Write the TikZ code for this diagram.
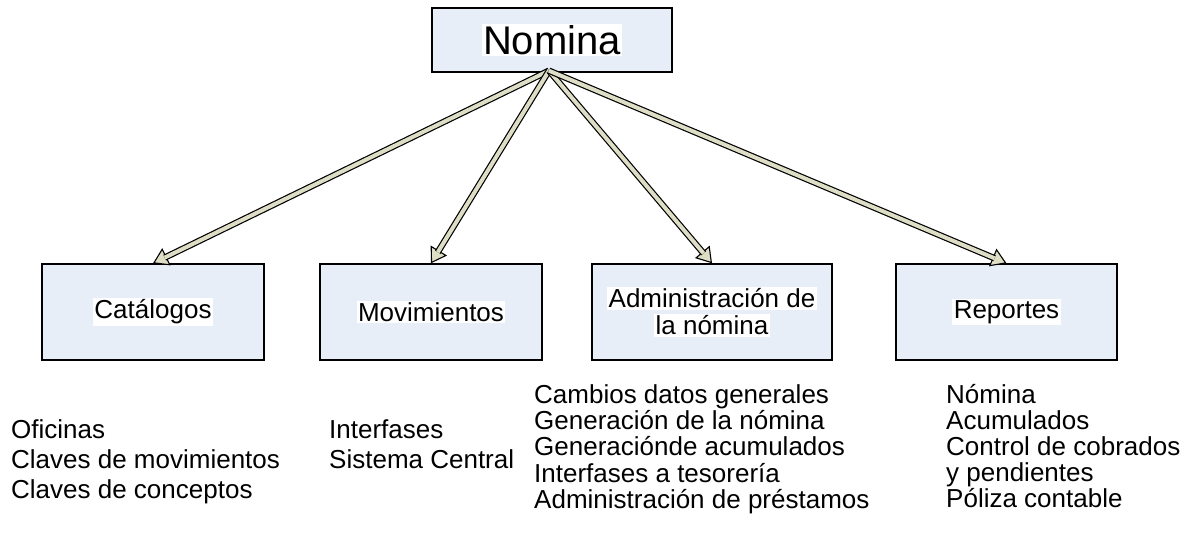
\documentclass[tikz,border=0pt]{standalone}
\usepackage{fontspec}
\setmainfont{Liberation Sans}
\usetikzlibrary{arrows.meta,calc}
\definecolor{boxfill}{RGB}{232,238,248}
\definecolor{khaki}{RGB}{222,222,198}
\newcommand\wbg[1]{{\setlength\fboxsep{1.5pt}\colorbox{white}{#1}}}
\tikzset{
  stepbox/.style={draw=black, line width=1.4pt, fill=boxfill, inner sep=0pt,
    minimum height=96pt, font=\fontsize{26}{28}\selectfont, align=center},
  shaft/.style={draw=black, line width=1.2pt, double=khaki, double distance=4pt, shorten >=13pt},
  headtip/.style={draw=black, line width=1.1pt, -{Triangle[length=15pt, width=19pt, fill=khaki]}},
  listtext/.style={anchor=base west, inner sep=0pt, font=\fontsize{26}{24}\selectfont},
}
\begin{document}
\begin{tikzpicture}[x=1pt,y=-1pt]
\useasboundingbox (0,0) rectangle (1196,544);
% boxes
\node[stepbox, minimum width=240pt, minimum height=64pt, font=\fontsize{40}{44}\selectfont] (nom) at (552,40) {\wbg{Nomina}};
\node[stepbox, minimum width=222pt] (cat) at (153,312) {\wbg{Catálogos}};
\node[stepbox, minimum width=222pt] (mov) at (431,312) {\wbg{Movimientos}};
\node[stepbox, minimum width=240pt] (adm) at (712,312) {\wbg{Administración de}\\[-1pt]\wbg{la nómina}};
\node[stepbox, minimum width=221pt] (rep) at (1006.5,312) {\wbg{Reportes}};
\coordinate (hub) at ($(nom.south)+(-3,-2)$);
% connectors
\foreach \t in {cat,mov,adm,rep}{
  \draw[headtip] ($(\t.north)!15pt!(hub)$) -- (\t.north);
  \draw[shaft] (hub) -- (\t.north);
}
% lists
\node[listtext] (l1) at (11,438) {\def\arraystretch{1.25}\begin{tabular}[t]{@{}l@{}}Oficinas\\Claves de movimientos\\Claves de conceptos\end{tabular}};
\node[listtext] (l2) at (329,438) {\def\arraystretch{1.25}\begin{tabular}[t]{@{}l@{}}Interfases\\Sistema Central\end{tabular}};
\node[listtext] (l3) at (534,403) {\begin{tabular}[t]{@{}l@{}}Cambios datos generales\\Generación de la nómina\\Generaciónde acumulados\\Interfases a tesorería\\Administración de préstamos\end{tabular}};
\node[listtext] (l4) at (946,403) {\begin{tabular}[t]{@{}l@{}}Nómina\\Acumulados\\Control de cobrados\\y pendientes\\Póliza contable\end{tabular}};
\end{tikzpicture}
\end{document}
